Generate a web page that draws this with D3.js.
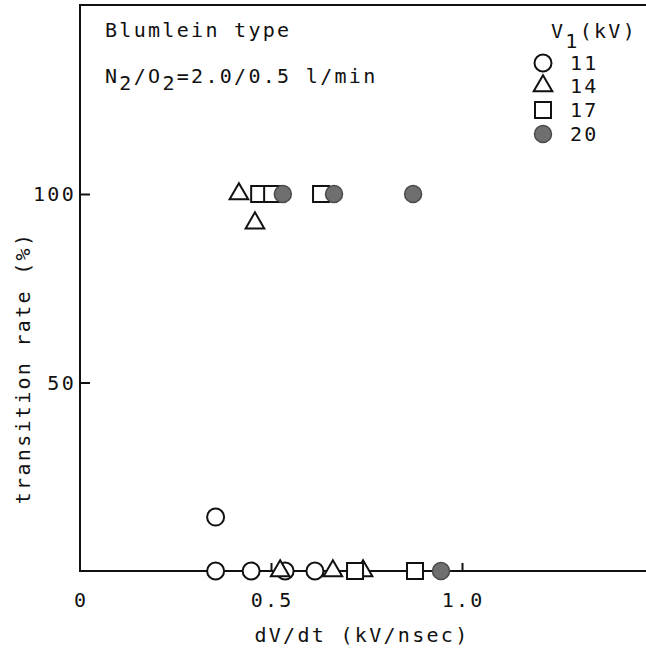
<!DOCTYPE html>
<html>
<head>
<meta charset="utf-8">
<script src="https://cdn.jsdelivr.net/npm/d3@7"></script>
<style>
  html, body { margin: 0; padding: 0; background: #fff; }
  svg { display: block; }
  .mono { font-family: "DejaVu Sans Mono", "Liberation Mono", monospace; font-size: 20px; letter-spacing: 2.3px; fill: #111; }
</style>
</head>
<body>
<svg id="chart" width="646" height="648"></svg>
<script>
// Transition rate vs. voltage rise rate, grouped by charging voltage V1
const series = ["11", "14", "17", "20"];
const symbolKinds = ["circle", "triangle", "square", "filled"];

const dvdt11 = [0.355, 0.355, 0.448, 0.537, 0.615];
const rate11 = [14.3, 0, 0, 0, 0];

const dvdt14 = [0.416, 0.458, 0.524, 0.662, 0.741];
const rate14 = [100, 92.3, 0, 0, 0];

const dvdt17 = [0.469, 0.503, 0.631, 0.720, 0.877];
const rate17 = [100, 100, 100, 0, 0];

const dvdt20 = [0.531, 0.665, 0.872, 0.945];
const rate20 = [100, 100, 100, 0];

const xTicks = [0, 0.5, 1.0];
const xTickLabels = ["0", "0.5", "1.0"];
const yTicks = [50, 100];
const yTickLabels = ["50", "100"];

const svg = d3.select("#chart");
const plotLeft = 80, plotRight = 700, plotTop = 5, plotBottom = 571;

const x = d3.scaleLinear().domain([0, 1.0]).range([plotLeft, 462]);
const y = d3.scaleLinear().domain([0, 100]).range([plotBottom, 194]);

// frame: left axis, bottom axis, top border
const frame = svg.append("g").attr("stroke", "#111").attr("stroke-width", 2).attr("fill", "none");
frame.append("path").attr("d", `M${plotRight},${plotTop}H${plotLeft}V${plotBottom}H${plotRight}`);

// x ticks point inward (upward)
const xAxis = d3.axisTop(x).tickValues(xTicks.filter(d => d > 0)).tickSize(8).tickFormat("");
svg.append("g").attr("transform", `translate(0,${plotBottom})`).call(xAxis)
  .call(g => g.select(".domain").remove())
  .call(g => g.selectAll(".tick line").attr("stroke", "#111").attr("stroke-width", 2));

// y ticks point inward (right)
const yAxis = d3.axisRight(y).tickValues(yTicks).tickSize(10).tickFormat("");
svg.append("g").attr("transform", `translate(${plotLeft},0)`).call(yAxis)
  .call(g => g.select(".domain").remove())
  .call(g => g.selectAll(".tick line").attr("stroke", "#111").attr("stroke-width", 2));

// tick labels
svg.append("g").selectAll("text").data(xTicks).join("text")
  .attr("class", "mono")
  .attr("x", d => x(d) + 1.2)
  .attr("y", 607)
  .attr("text-anchor", "middle")
  .text((d, i) => xTickLabels[i]);

svg.append("g").selectAll("text").data(yTicks).join("text")
  .attr("class", "mono")
  .attr("x", 76)
  .attr("y", d => y(d) + 7)
  .attr("text-anchor", "end")
  .text((d, i) => yTickLabels[i]);

// axis titles
svg.append("text").attr("class", "mono")
  .attr("x", 362).attr("y", 642).attr("text-anchor", "middle")
  .text("dV/dt (kV/nsec)");

svg.append("text").attr("class", "mono")
  .attr("transform", "translate(30,368) rotate(-90)")
  .attr("text-anchor", "middle")
  .text("transition rate (%)");

// annotations
svg.append("text").attr("class", "mono").attr("x", 105).attr("y", 37).text("Blumlein type");
const cond = svg.append("text").attr("class", "mono").attr("x", 105).attr("y", 83);
cond.append("tspan").text("N");
cond.append("tspan").attr("dy", 7).text("2");
cond.append("tspan").attr("dy", -7).text("/O");
cond.append("tspan").attr("dy", 7).text("2");
cond.append("tspan").attr("dy", -7).text("=2.0/0.5 l/min");

// marker drawing
const R = 8.5, SQ = 16;
const triPath = d3.symbol().type(d3.symbolTriangle).size(150)();

function drawMarker(g, kind) {
  if (kind === "circle") {
    g.append("circle").attr("r", R).attr("fill", "#fff").attr("stroke", "#111").attr("stroke-width", 2);
  } else if (kind === "triangle") {
    g.append("path").attr("d", triPath).attr("fill", "#fff").attr("stroke", "#111").attr("stroke-width", 2).attr("stroke-linejoin", "miter");
  } else if (kind === "square") {
    g.append("rect").attr("x", -SQ / 2).attr("y", -SQ / 2).attr("width", SQ).attr("height", SQ)
      .attr("fill", "#fff").attr("stroke", "#111").attr("stroke-width", 2);
  } else {
    g.append("circle").attr("r", R).attr("fill", "#6f6f6f").attr("stroke", "#4a4a4a").attr("stroke-width", 1.5);
  }
}

const groups = [
  { kind: "circle", xs: dvdt11, ys: rate11 },
  { kind: "triangle", xs: dvdt14, ys: rate14 },
  { kind: "square", xs: dvdt17, ys: rate17 },
  { kind: "filled", xs: dvdt20, ys: rate20 }
];

const marks = svg.append("g");
groups.forEach(grp => {
  grp.xs.forEach((xv, i) => {
    const g = marks.append("g").attr("transform", `translate(${x(xv)},${y(grp.ys[i])})`);
    drawMarker(g, grp.kind);
  });
});

// legend
const lg = svg.append("g");
const vt = lg.append("text").attr("class", "mono").attr("x", 551).attr("y", 38);
vt.append("tspan").text("V");
vt.append("tspan").attr("dy", 10).text("1");
vt.append("tspan").attr("dy", -10).text("(kV)");

const rowY = [63, 86, 110, 134];
series.forEach((s, i) => {
  const g = lg.append("g").attr("transform", `translate(543,${rowY[i]})`);
  drawMarker(g, symbolKinds[i]);
  lg.append("text").attr("class", "mono").attr("x", 570).attr("y", rowY[i] + 7).text(s);
});
</script>
</body>
</html>
